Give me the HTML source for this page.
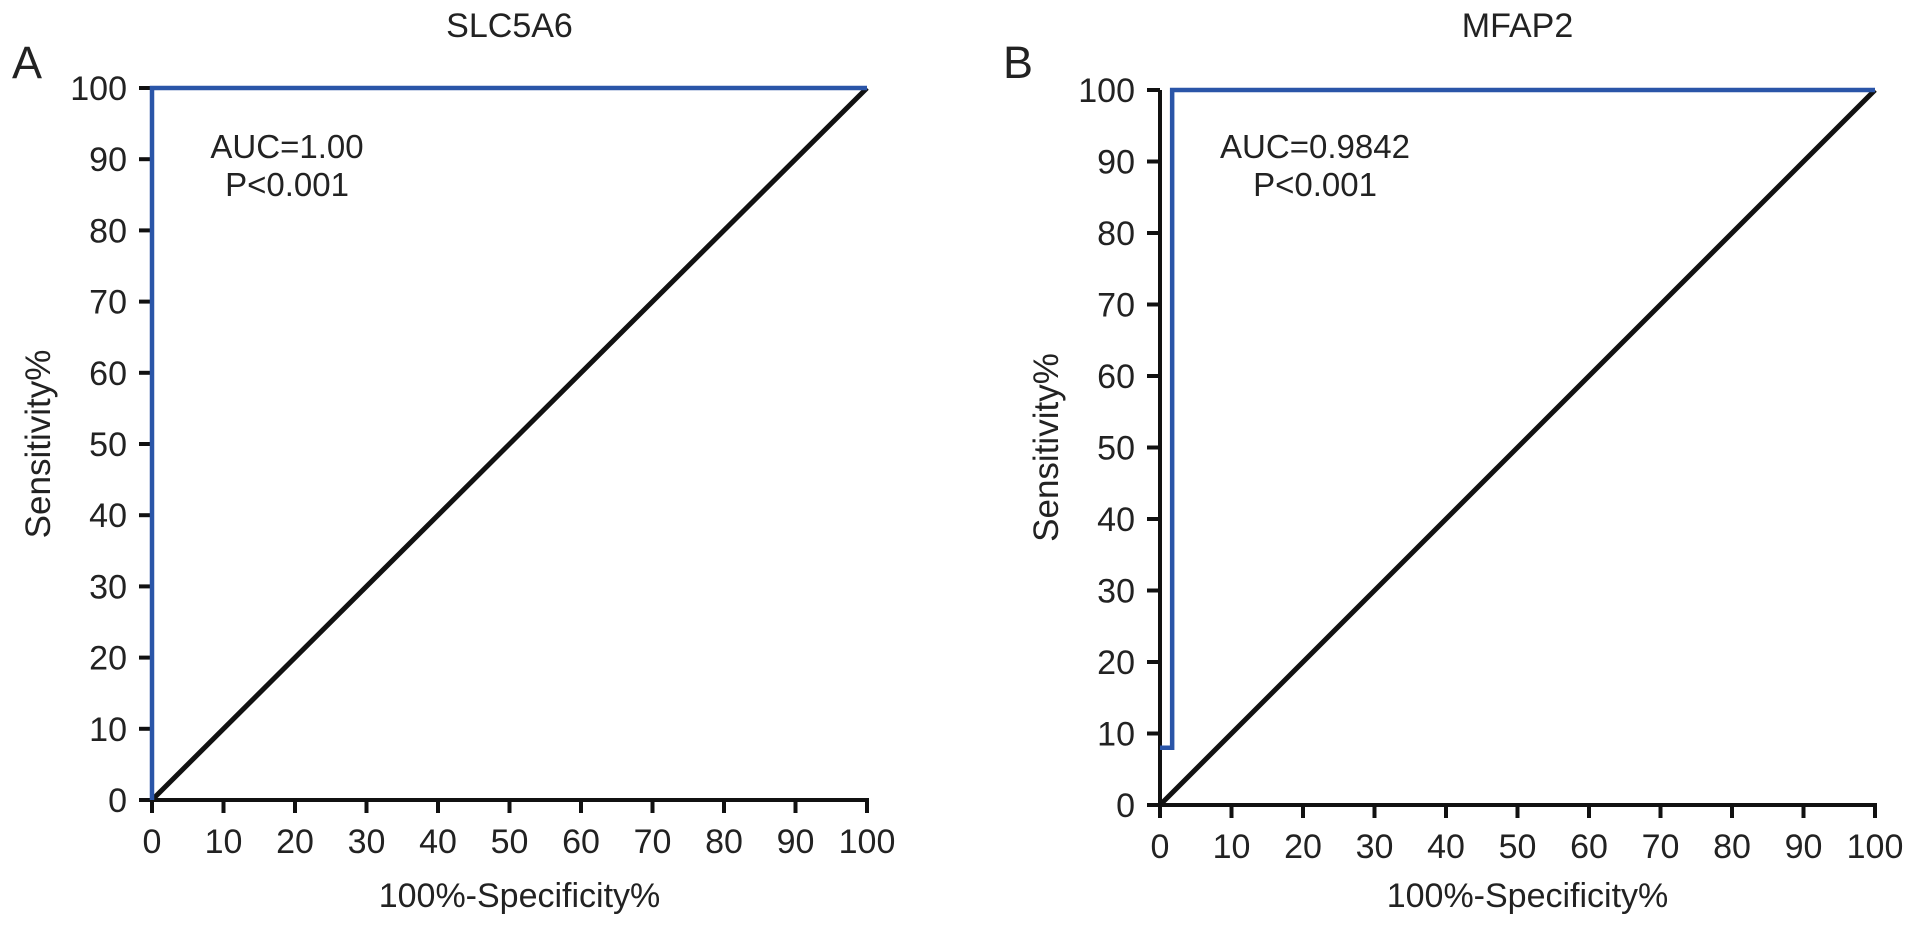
<!DOCTYPE html>
<html><head><meta charset="utf-8"><style>
body{margin:0;background:#fff}
svg text{font-family:"Liberation Sans",Arial,sans-serif;fill:#222}
</style></head><body>
<svg id="c" width="1913" height="926" xmlns="http://www.w3.org/2000/svg"></svg>
<script>
const ticks=[0,10,20,30,40,50,60,70,80,90,100];
const rocA_x=[0,0,0,100];
const rocA_y=[0,8,100,100];
const rocB_x=[0,1.7,1.7,100];
const rocB_y=[8,8,100,100];
const panels=[
 {letter:"A",title:"SLC5A6",auc:"AUC=1.00",p:"P<0.001",x0:152,x1:867,y0:800,y1:88,lx:12,ylx:38,aucx:287,rx:rocA_x,ry:rocA_y},
 {letter:"B",title:"MFAP2",auc:"AUC=0.9842",p:"P<0.001",x0:1160,x1:1875,y0:805,y1:90,lx:1003,ylx:1046,aucx:1315,rx:rocB_x,ry:rocB_y}
];
const svg=document.getElementById('c');
const NS="http://www.w3.org/2000/svg";
function mk(t,a,txt){const e=document.createElementNS(NS,t);for(const k in a)e.setAttribute(k,a[k]);if(txt!==undefined)e.textContent=txt;svg.appendChild(e);return e;}
panels.forEach((P,i)=>{
 const sx=v=>P.x0+(P.x1-P.x0)*v/100, sy=v=>P.y0-(P.y0-P.y1)*v/100;
 let e;
 e=mk('text',{x:P.lx,y:78,'font-size':45},P.letter);
 
 
 e=mk('text',{x:(P.x0+P.x1)/2,y:37,'font-size':34,'text-anchor':'middle'},P.title);
 
 
 e=mk('line',{x1:P.x0,y1:P.y0,x2:P.x0,y2:P.y1,stroke:'#111','stroke-width':4});
 
 
 e=mk('line',{x1:P.x0-10,y1:P.y0,x2:P.x1+2,y2:P.y0,stroke:'#111','stroke-width':4});
 
 
 ticks.forEach(t=>{
  e=mk('line',{x1:sx(t),y1:P.y0,x2:sx(t),y2:P.y0+13,stroke:'#111','stroke-width':4});
  
  
  e=mk('text',{x:sx(t),y:P.y0+53,'font-size':34,'text-anchor':'middle'},t);
  
  
  e=mk('line',{x1:P.x0-13,y1:sy(t),x2:P.x0,y2:sy(t),stroke:'#111','stroke-width':4});
  
  
  e=mk('text',{x:P.x0-25,y:sy(t)+12,'font-size':34,'text-anchor':'end'},t);
  
  
 });
 e=mk('text',{x:(P.x0+P.x1)/2+10,y:907,'font-size':34,'text-anchor':'middle'},'100%-Specificity%');
 
 
 const cy=(P.y0+P.y1)/2;
 e=mk('text',{x:P.ylx,y:cy,'font-size':35,'text-anchor':'middle',transform:`rotate(-90 ${P.ylx} ${cy})`,dy:12},'Sensitivity%');
 
 
 e=mk('line',{x1:sx(0),y1:sy(0),x2:sx(100),y2:sy(100),stroke:'#111','stroke-width':5});
 
 
 const pts=P.rx.map((x,k)=>sx(x)+','+sy(P.ry[k])).join(' ');
 e=mk('polyline',{points:pts,fill:'none',stroke:'#2a55a8','stroke-width':4.5});
 
 
 e=mk('text',{x:P.aucx,y:158,'font-size':33,'text-anchor':'middle'},P.auc);
 
 
 e=mk('text',{x:P.aucx,y:196,'font-size':33,'text-anchor':'middle'},P.p);
 
 
});
</script>
</body></html>
